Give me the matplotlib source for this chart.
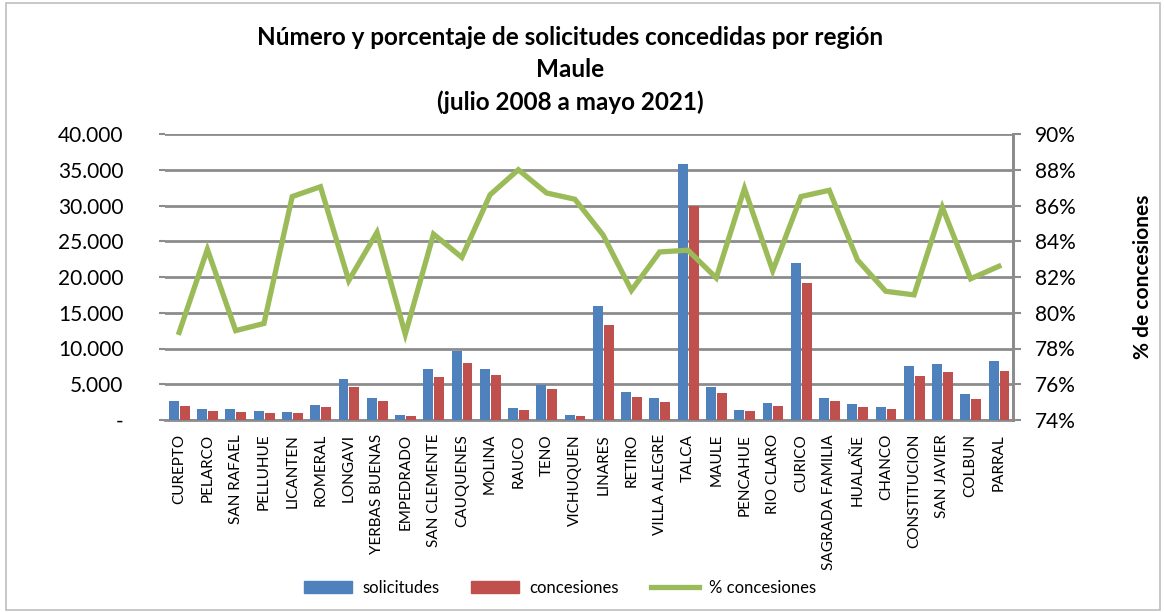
import matplotlib
matplotlib.use("Agg")
import matplotlib.pyplot as plt
from matplotlib.patches import Rectangle, Patch
from matplotlib.lines import Line2D
from matplotlib.ticker import FuncFormatter, MultipleLocator
import numpy as np

plt.rcParams['font.family'] = ['Lato', 'DejaVu Sans']

categories = ["CUREPTO", "PELARCO", "SAN RAFAEL", "PELLUHUE", "LICANTEN", "ROMERAL",
              "LONGAVI", "YERBAS BUENAS", "EMPEDRADO", "SAN CLEMENTE", "CAUQUENES",
              "MOLINA", "RAUCO", "TENO", "VICHUQUEN", "LINARES", "RETIRO",
              "VILLA ALEGRE", "TALCA", "MAULE", "PENCAHUE", "RIO CLARO", "CURICO",
              "SAGRADA FAMILIA", "HUALAÑE", "CHANCO", "CONSTITUCION", "SAN JAVIER",
              "COLBUN", "PARRAL"]
solicitudes = [2590, 1500, 1500, 1220, 1180, 2120, 5730, 3010, 710, 7100, 9680,
               7190, 1650, 4940, 710, 15900, 3900, 3010, 35800, 4610, 1460, 2400,
               22000, 3060, 2260, 1880, 7570, 7900, 3620, 8270]
concesiones = [2020, 1220, 1180, 990, 1030, 1830, 4610, 2590, 520, 5970, 7990,
               6250, 1410, 4280, 560, 13300, 3200, 2490, 30000, 3760, 1220, 1970,
               19100, 2630, 1830, 1500, 6110, 6770, 2910, 6860]
pct_concesiones = [78.9, 83.55, 79.0, 79.4, 86.5, 87.05, 81.8, 84.5, 78.8, 84.4,
                   83.1, 86.6, 88.0, 86.7, 86.35, 84.35, 81.25, 83.4, 83.5, 81.95,
                   86.95, 82.35, 86.5, 86.85, 82.95, 81.2, 81.0, 85.9, 81.9, 82.6]

title = "Número y porcentaje de solicitudes concedidas por región\nMaule\n(julio 2008 a mayo 2021)"

blue = "#4F81BD"
red = "#C0504D"
green = "#9BBB59"
grid_c = "#8C8C8C"

fig = plt.figure(figsize=(11.64, 6.12), dpi=100)
ax = fig.add_axes([165/1164, 1-420/612, (1013-165)/1164, (420-134)/612])
x = np.arange(len(categories))
w = 0.35
ax.bar(x - 0.185, solicitudes, width=w, color=blue, zorder=3, label="solicitudes")
ax.bar(x + 0.2, concesiones, width=w, color=red, zorder=3, label="concesiones")
ax.set_ylim(0, 40000)
ax.set_xlim(-0.5, len(categories) - 0.5)
ax.yaxis.set_major_locator(MultipleLocator(5000))

def fmt(v, p):
    if v == 0:
        return "-"
    return f"{int(v):,}".replace(",", ".")
ax.yaxis.set_major_formatter(FuncFormatter(fmt))
ax.grid(axis='y', color=grid_c, linewidth=2, zorder=0)
ax.set_axisbelow(True)
ax.set_xticks(x)
ax.set_xticklabels(categories, rotation=90, fontsize=11)
ax.tick_params(axis='x', length=0, pad=10)
ax.tick_params(axis='y', length=4, width=1.5, color=grid_c, labelsize=15, pad=26)
for s in ['left', 'top']:
    ax.spines[s].set_visible(False)
ax.spines['bottom'].set_color(grid_c)
ax.spines['bottom'].set_linewidth(2)
ax.spines['right'].set_color(grid_c)
ax.spines['right'].set_linewidth(2)

ax2 = ax.twinx()
ax2.plot(x, pct_concesiones, color=green, linewidth=3.8, zorder=4, solid_joinstyle='miter')
ax2.set_ylim(74, 90)
ax2.yaxis.set_major_locator(MultipleLocator(2))
ax2.yaxis.set_major_formatter(FuncFormatter(lambda v, p: f"{int(round(v))}%"))
ax2.tick_params(axis='y', length=6, width=1.5, color=grid_c, labelsize=15, pad=10)
for s in ['left', 'top', 'bottom']:
    ax2.spines[s].set_visible(False)
ax2.spines['right'].set_color(grid_c)
ax2.spines['right'].set_linewidth(2)
ax2.set_ylabel("% de concesiones", fontsize=15, fontweight='bold')
ax2.yaxis.set_label_coords((1133-165)/848, 0.5)

fig.text(570/1164, 1-70/612, title, ha='center', va='center', fontsize=17.5,
         fontweight='bold', linespacing=1.5)

handles = [Patch(color=blue), Patch(color=red), Line2D([0], [0], color=green, linewidth=3.8)]
fig.legend(handles, ["solicitudes", "concesiones", "% concesiones"], loc='center',
           bbox_to_anchor=(560/1164, 1-588/612), ncol=3, frameon=False, fontsize=12,
           handlelength=2.9, handleheight=0.75, columnspacing=1.9, handletextpad=0.6)

fig.add_artist(Rectangle((6/1164, 2/612), 1154/1164, 607/612, transform=fig.transFigure,
                         fill=False, edgecolor="#BFBFBF", linewidth=1.2))

fig.savefig("out.png", dpi=100)
